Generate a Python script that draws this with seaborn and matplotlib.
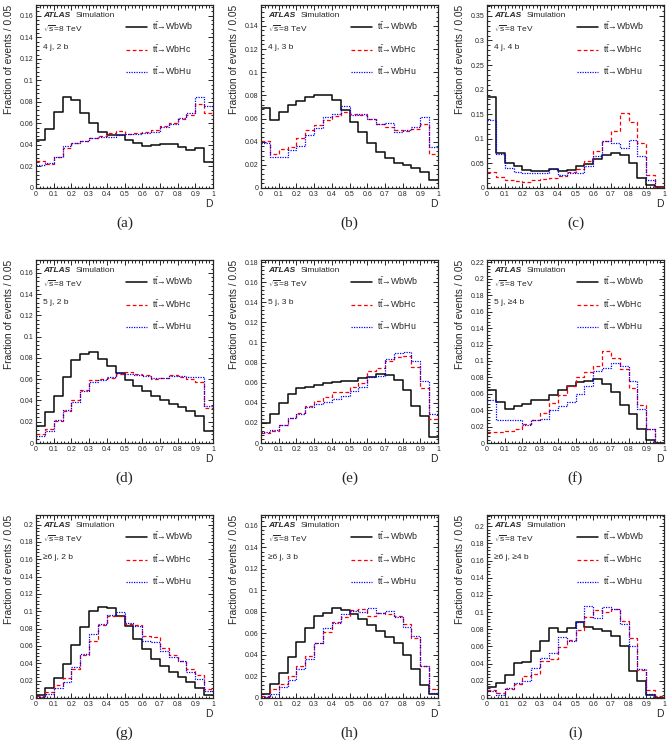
import numpy as np
import pandas as pd
import matplotlib
matplotlib.use("Agg")
import matplotlib.pyplot as plt
from matplotlib.lines import Line2D
from matplotlib.ticker import MultipleLocator, AutoMinorLocator, FuncFormatter
import seaborn as sns

sns.set_style("ticks")
plt.rcParams["font.family"] = ["Liberation Sans", "DejaVu Sans"]
plt.rcParams["mathtext.fontset"] = "custom"
plt.rcParams["mathtext.rm"] = "Liberation Sans"
plt.rcParams["mathtext.it"] = "Liberation Sans:italic"
plt.rcParams["mathtext.bf"] = "Liberation Sans:bold"

# ---------------- data (fraction of events per bin, 20 bins in D) ----------------
bin_edges = np.linspace(0.0, 1.0, 21)
bin_centers = 0.5 * (bin_edges[:-1] + bin_edges[1:])

series_labels = [r"t$\bar{\mathrm{t}}$→WbWb",
                 r"t$\bar{\mathrm{t}}$→WbHc",
                 r"t$\bar{\mathrm{t}}$→WbHu"]
region_labels = ["4 j, 2 b", "4 j, 3 b", "4 j, 4 b",
                 "5 j, 2 b", "5 j, 3 b", "5 j, ≥4 b",
                 "≥6 j, 2 b", "≥6 j, 3 b", "≥6 j, ≥4 b"]
panel_tags = ["(a)", "(b)", "(c)", "(d)", "(e)", "(f)", "(g)", "(h)", "(i)"]
y_max = [0.170, 0.158, 0.372, 0.172, 0.182, 0.223, 0.211, 0.170, 0.213]
y_major = [0.02, 0.02, 0.05, 0.02, 0.02, 0.02, 0.02, 0.02, 0.02]

a_wbwb = [0.045, 0.055, 0.071, 0.085, 0.082, 0.070, 0.060, 0.052, 0.049, 0.049,
          0.045, 0.042, 0.039, 0.040, 0.041, 0.041, 0.038, 0.035, 0.037, 0.024]
a_wbhc = [0.025, 0.022, 0.029, 0.037, 0.042, 0.044, 0.046, 0.048, 0.051, 0.053,
          0.050, 0.051, 0.052, 0.054, 0.058, 0.060, 0.064, 0.068, 0.078, 0.070]
a_wbhu = [0.021, 0.023, 0.029, 0.039, 0.042, 0.044, 0.046, 0.047, 0.047, 0.049,
          0.050, 0.050, 0.051, 0.052, 0.057, 0.059, 0.065, 0.070, 0.085, 0.076]

b_wbwb = [0.069, 0.059, 0.066, 0.072, 0.075, 0.079, 0.080, 0.080, 0.076, 0.067,
          0.057, 0.048, 0.039, 0.031, 0.026, 0.022, 0.020, 0.017, 0.014, 0.007]
b_wbhc = [0.041, 0.029, 0.034, 0.035, 0.043, 0.050, 0.054, 0.059, 0.062, 0.066,
          0.064, 0.063, 0.060, 0.055, 0.053, 0.050, 0.049, 0.051, 0.055, 0.029]
b_wbhu = [0.039, 0.027, 0.027, 0.033, 0.036, 0.046, 0.052, 0.061, 0.064, 0.071,
          0.063, 0.064, 0.060, 0.055, 0.056, 0.048, 0.050, 0.053, 0.061, 0.035]

c_wbwb = [0.185, 0.072, 0.050, 0.045, 0.036, 0.035, 0.034, 0.038, 0.034, 0.036,
          0.045, 0.048, 0.058, 0.067, 0.071, 0.068, 0.050, 0.021, 0.007, 0.002]
c_wbhc = [0.032, 0.022, 0.016, 0.015, 0.013, 0.017, 0.018, 0.020, 0.025, 0.033,
          0.038, 0.055, 0.075, 0.095, 0.115, 0.152, 0.135, 0.091, 0.027, 0.003]
c_wbhu = [0.138, 0.070, 0.040, 0.033, 0.030, 0.031, 0.031, 0.038, 0.027, 0.031,
          0.031, 0.044, 0.065, 0.095, 0.092, 0.082, 0.097, 0.065, 0.016, 0.000]

d_wbwb = [0.016, 0.029, 0.044, 0.062, 0.078, 0.084, 0.086, 0.079, 0.072, 0.066,
          0.059, 0.054, 0.049, 0.044, 0.040, 0.037, 0.034, 0.030, 0.025, 0.011]
d_wbhc = [0.008, 0.013, 0.021, 0.030, 0.040, 0.050, 0.059, 0.060, 0.061, 0.065,
          0.067, 0.065, 0.064, 0.060, 0.061, 0.064, 0.062, 0.060, 0.057, 0.033]
d_wbhu = [0.007, 0.011, 0.022, 0.031, 0.039, 0.049, 0.057, 0.059, 0.062, 0.066,
          0.065, 0.064, 0.063, 0.061, 0.061, 0.063, 0.063, 0.062, 0.062, 0.035]

e_wbwb = [0.020, 0.029, 0.040, 0.049, 0.055, 0.056, 0.058, 0.060, 0.061, 0.062,
          0.062, 0.065, 0.066, 0.069, 0.068, 0.063, 0.053, 0.037, 0.027, 0.006]
e_wbhc = [0.010, 0.012, 0.018, 0.025, 0.030, 0.037, 0.042, 0.046, 0.051, 0.051,
          0.056, 0.060, 0.072, 0.075, 0.082, 0.086, 0.087, 0.076, 0.055, 0.024]
e_wbhu = [0.011, 0.013, 0.018, 0.025, 0.029, 0.036, 0.039, 0.041, 0.044, 0.047,
          0.052, 0.056, 0.066, 0.067, 0.084, 0.090, 0.091, 0.082, 0.062, 0.029]

f_wbwb = [0.065, 0.050, 0.042, 0.045, 0.048, 0.053, 0.053, 0.058, 0.065, 0.070,
          0.074, 0.075, 0.078, 0.072, 0.062, 0.046, 0.035, 0.017, 0.004, 0.000]
f_wbhc = [0.014, 0.013, 0.015, 0.017, 0.023, 0.028, 0.037, 0.049, 0.059, 0.069,
          0.080, 0.086, 0.094, 0.112, 0.104, 0.090, 0.067, 0.046, 0.017, 0.000]
f_wbhu = [0.052, 0.028, 0.028, 0.028, 0.022, 0.028, 0.029, 0.040, 0.045, 0.050,
          0.060, 0.070, 0.088, 0.092, 0.098, 0.094, 0.076, 0.041, 0.017, 0.000]

g_wbwb = [0.004, 0.012, 0.023, 0.039, 0.061, 0.082, 0.100, 0.105, 0.104, 0.095,
          0.083, 0.068, 0.056, 0.045, 0.037, 0.030, 0.024, 0.019, 0.011, 0.004]
g_wbhc = [0.002, 0.007, 0.015, 0.023, 0.034, 0.050, 0.066, 0.084, 0.094, 0.094,
          0.085, 0.084, 0.071, 0.070, 0.058, 0.050, 0.043, 0.033, 0.026, 0.010]
g_wbhu = [0.001, 0.005, 0.011, 0.018, 0.036, 0.051, 0.074, 0.085, 0.096, 0.099,
          0.086, 0.083, 0.066, 0.065, 0.054, 0.047, 0.043, 0.030, 0.022, 0.008]

h_wbwb = [0.004, 0.013, 0.023, 0.038, 0.052, 0.065, 0.076, 0.079, 0.084, 0.082,
          0.078, 0.073, 0.068, 0.062, 0.057, 0.051, 0.040, 0.027, 0.012, 0.004]
h_wbhc = [0.002, 0.008, 0.013, 0.020, 0.030, 0.039, 0.051, 0.061, 0.071, 0.075,
          0.082, 0.083, 0.076, 0.079, 0.078, 0.076, 0.069, 0.056, 0.030, 0.008]
h_wbhu = [0.001, 0.004, 0.010, 0.017, 0.027, 0.036, 0.051, 0.065, 0.070, 0.078,
          0.081, 0.080, 0.084, 0.079, 0.081, 0.075, 0.066, 0.058, 0.030, 0.005]

i_wbwb = [0.013, 0.017, 0.027, 0.041, 0.042, 0.055, 0.066, 0.081, 0.077, 0.081,
          0.088, 0.083, 0.080, 0.078, 0.072, 0.060, 0.031, 0.020, 0.003, 0.000]
i_wbhc = [0.009, 0.006, 0.010, 0.016, 0.026, 0.028, 0.043, 0.045, 0.059, 0.067,
          0.079, 0.094, 0.102, 0.100, 0.104, 0.090, 0.070, 0.033, 0.009, 0.002]
i_wbhu = [0.008, 0.004, 0.012, 0.017, 0.020, 0.035, 0.047, 0.052, 0.071, 0.066,
          0.088, 0.107, 0.093, 0.106, 0.104, 0.086, 0.060, 0.034, 0.005, 0.000]

panel_data = [
    (a_wbwb, a_wbhc, a_wbhu), (b_wbwb, b_wbhc, b_wbhu), (c_wbwb, c_wbhc, c_wbhu),
    (d_wbwb, d_wbhc, d_wbhu), (e_wbwb, e_wbhc, e_wbhu), (f_wbwb, f_wbhc, f_wbhu),
    (g_wbwb, g_wbhc, g_wbhu), (h_wbwb, h_wbhc, h_wbhu), (i_wbwb, i_wbhc, i_wbhu),
]

# ---------------- styling ----------------
colors = ["#111111", "#ff0000", "#0000ff"]
styles = ["-", (0, (3, 2)), (0, (1, 1))]
widths = [1.15, 0.9, 0.9]

W, H = 672, 747
fig = plt.figure(figsize=(W / 100, H / 100), dpi=100)

col_left = [36, 261, 487]
row_top = [5, 260, 515]
ax_w, ax_h = 177, 183

fmt = FuncFormatter(lambda v, p: f"{v:.3g}" if abs(v) > 1e-9 else "0")

for k in range(9):
    r, c = divmod(k, 3)
    left = col_left[c] / W
    bottom = 1 - (row_top[r] + ax_h) / H
    ax = fig.add_axes([left, bottom, ax_w / W, ax_h / H])

    for s in range(3):
        df = pd.DataFrame({"D": bin_centers, "w": np.asarray(panel_data[k][s], float)})
        sns.histplot(data=df, x="D", weights="w", binwidth=0.05, binrange=(0.0, 1.0),
                     element="step", fill=False, color=colors[s],
                     linestyle=styles[s], linewidth=widths[s], ax=ax)

    ax.set_xlim(0, 1)
    ax.set_ylim(0, y_max[k])
    ax.xaxis.set_major_locator(MultipleLocator(0.1))
    ax.xaxis.set_minor_locator(AutoMinorLocator(5))
    ax.yaxis.set_major_locator(MultipleLocator(y_major[k]))
    ax.yaxis.set_minor_locator(AutoMinorLocator(5))
    ax.xaxis.set_major_formatter(fmt)
    ax.yaxis.set_major_formatter(fmt)
    ax.tick_params(which="both", direction="in", top=True, right=True,
                   labelsize=5, width=0.7, pad=2)
    ax.tick_params(which="major", length=3.5)
    ax.tick_params(which="minor", length=1.8)
    for sp in ax.spines.values():
        sp.set_linewidth(0.9)

    ax.set_ylabel("Fraction of events / 0.05", fontsize=7.3, loc="top", labelpad=4)
    ax.set_xlabel("D", fontsize=7.5, loc="right", labelpad=1)

    ax.text(0.04, 0.945, "ATLAS", transform=ax.transAxes, fontsize=6,
            fontweight="bold", fontstyle="italic", va="center", ha="left")
    ax.text(0.225, 0.945, "Simulation", transform=ax.transAxes, fontsize=6,
            va="center", ha="left")
    ax.text(0.04, 0.869, r"$\sqrt{\mathrm{s}}$=8 TeV", transform=ax.transAxes, fontsize=6,
            va="center", ha="left")
    ax.text(0.04, 0.77, region_labels[k], transform=ax.transAxes, fontsize=6,
            va="center", ha="left")

    handles = [Line2D([], [], color=colors[s], linestyle=styles[s], linewidth=widths[s])
               for s in range(3)]
    ax.legend(handles, series_labels, loc="upper left", bbox_to_anchor=(0.49, 0.935),
              frameon=False, fontsize=6.3, handlelength=2.4, handletextpad=0.6,
              labelspacing=1.25, borderaxespad=0)

    cap_y = 1 - (row_top[r] + ax_h + 35) / H
    fig.text(left + ax_w / W / 2, cap_y, panel_tags[k], ha="center", va="center",
             fontsize=11, family=["Liberation Serif", "DejaVu Serif"])

fig.savefig("out.png", dpi=100)
